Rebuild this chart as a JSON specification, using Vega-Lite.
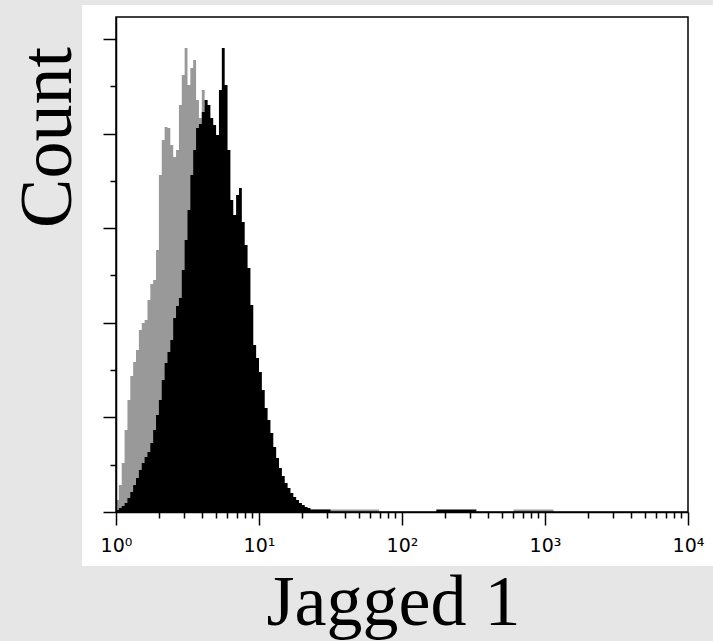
{
  "$schema": "https://vega.github.io/schema/vega-lite/v6.json",
  "width": 572,
  "height": 495,
  "autosize": "none",
  "padding": {"left": 116, "top": 17, "right": 25, "bottom": 129},
  "background": "#e6e6e6",
  "config": {"view": {"stroke": null}},
  "datasets": {
    "control": [
      {"intensity": 1, "count": 6.3},
      {"intensity": 1.0471, "count": 14.3},
      {"intensity": 1.0965, "count": 25.9},
      {"intensity": 1.1482, "count": 43.3},
      {"intensity": 1.2023, "count": 59.2},
      {"intensity": 1.2589, "count": 71.9},
      {"intensity": 1.3183, "count": 79.3},
      {"intensity": 1.3804, "count": 85.6},
      {"intensity": 1.4454, "count": 96.2},
      {"intensity": 1.5136, "count": 99.9},
      {"intensity": 1.5849, "count": 101.5},
      {"intensity": 1.6596, "count": 112.0},
      {"intensity": 1.7378, "count": 120.5},
      {"intensity": 1.8197, "count": 122.6},
      {"intensity": 1.9055, "count": 138.5},
      {"intensity": 1.9953, "count": 178.1},
      {"intensity": 2.0893, "count": 196.6},
      {"intensity": 2.1878, "count": 203.5},
      {"intensity": 2.2909, "count": 202.9},
      {"intensity": 2.3988, "count": 194.0},
      {"intensity": 2.5119, "count": 187.6},
      {"intensity": 2.6303, "count": 191.3},
      {"intensity": 2.7542, "count": 215.1},
      {"intensity": 2.8840, "count": 231.0},
      {"intensity": 3.0200, "count": 245.2},
      {"intensity": 3.1623, "count": 225.7},
      {"intensity": 3.3113, "count": 234.7},
      {"intensity": 3.4674, "count": 238.9},
      {"intensity": 3.6308, "count": 217.7},
      {"intensity": 3.8019, "count": 208.2},
      {"intensity": 3.9811, "count": 223.0},
      {"intensity": 4.1687, "count": 217.7},
      {"intensity": 4.3652, "count": 196.6},
      {"intensity": 4.5709, "count": 183.4},
      {"intensity": 4.7863, "count": 170.2},
      {"intensity": 5.0119, "count": 157.0},
      {"intensity": 5.2481, "count": 143.8},
      {"intensity": 5.4954, "count": 130.5},
      {"intensity": 5.7544, "count": 117.3},
      {"intensity": 6.0256, "count": 104.1},
      {"intensity": 6.3096, "count": 90.9},
      {"intensity": 6.6069, "count": 80.3},
      {"intensity": 6.9183, "count": 69.8},
      {"intensity": 7.2444, "count": 60.2},
      {"intensity": 7.5858, "count": 51.3},
      {"intensity": 7.9433, "count": 43.3},
      {"intensity": 8.3176, "count": 36.5},
      {"intensity": 8.7096, "count": 30.1},
      {"intensity": 9.1201, "count": 24.8},
      {"intensity": 9.5499, "count": 20.1},
      {"intensity": 10, "count": 16.4},
      {"intensity": 10.471, "count": 13.2},
      {"intensity": 10.965, "count": 10.6},
      {"intensity": 11.482, "count": 8.5},
      {"intensity": 12.023, "count": 6.9},
      {"intensity": 12.589, "count": 5.8},
      {"intensity": 13.183, "count": 4.8},
      {"intensity": 13.804, "count": 4.2},
      {"intensity": 14.454, "count": 3.7},
      {"intensity": 15.136, "count": 3.2},
      {"intensity": 15.849, "count": 2.6},
      {"intensity": 16.596, "count": 1.3},
      {"intensity": 69.183, "count": 0},
      {"intensity": 602.56, "count": 1.3},
      {"intensity": 1148.2, "count": 0}
    ],
    "jagged": [
      {"intensity": 1, "count": 1.1},
      {"intensity": 1.0471, "count": 2.1},
      {"intensity": 1.0965, "count": 3.2},
      {"intensity": 1.1482, "count": 4.8},
      {"intensity": 1.2023, "count": 7.4},
      {"intensity": 1.2589, "count": 10.6},
      {"intensity": 1.3183, "count": 14.3},
      {"intensity": 1.3804, "count": 18.0},
      {"intensity": 1.4454, "count": 22.2},
      {"intensity": 1.5136, "count": 25.9},
      {"intensity": 1.5849, "count": 29.1},
      {"intensity": 1.6596, "count": 31.7},
      {"intensity": 1.7378, "count": 36.5},
      {"intensity": 1.8197, "count": 43.3},
      {"intensity": 1.9055, "count": 51.3},
      {"intensity": 1.9953, "count": 59.2},
      {"intensity": 2.0893, "count": 69.8},
      {"intensity": 2.1878, "count": 78.7},
      {"intensity": 2.2909, "count": 84.6},
      {"intensity": 2.3988, "count": 90.9},
      {"intensity": 2.5119, "count": 102.5},
      {"intensity": 2.6303, "count": 108.9},
      {"intensity": 2.7542, "count": 113.1},
      {"intensity": 2.8840, "count": 127.9},
      {"intensity": 3.0200, "count": 143.8},
      {"intensity": 3.1623, "count": 159.6},
      {"intensity": 3.3113, "count": 178.1},
      {"intensity": 3.4674, "count": 191.3},
      {"intensity": 3.6308, "count": 202.9},
      {"intensity": 3.8019, "count": 205.1},
      {"intensity": 3.9811, "count": 211.4},
      {"intensity": 4.1687, "count": 217.7},
      {"intensity": 4.3652, "count": 215.1},
      {"intensity": 4.5709, "count": 208.2},
      {"intensity": 4.7863, "count": 204.5},
      {"intensity": 5.0119, "count": 199.2},
      {"intensity": 5.2481, "count": 223.0},
      {"intensity": 5.4954, "count": 245.2},
      {"intensity": 5.7544, "count": 225.7},
      {"intensity": 6.0256, "count": 191.3},
      {"intensity": 6.3096, "count": 164.9},
      {"intensity": 6.6069, "count": 157.0},
      {"intensity": 6.9183, "count": 167.5},
      {"intensity": 7.2444, "count": 171.2},
      {"intensity": 7.5858, "count": 153.3},
      {"intensity": 7.9433, "count": 141.1},
      {"intensity": 8.3176, "count": 129.0},
      {"intensity": 8.7096, "count": 109.4},
      {"intensity": 9.1201, "count": 88.3},
      {"intensity": 9.5499, "count": 81.4},
      {"intensity": 10, "count": 74.0},
      {"intensity": 10.471, "count": 64.5},
      {"intensity": 10.965, "count": 55.0},
      {"intensity": 11.482, "count": 48.6},
      {"intensity": 12.023, "count": 41.8},
      {"intensity": 12.589, "count": 34.4},
      {"intensity": 13.183, "count": 28.5},
      {"intensity": 13.804, "count": 23.3},
      {"intensity": 14.454, "count": 19.0},
      {"intensity": 15.136, "count": 15.3},
      {"intensity": 15.849, "count": 12.7},
      {"intensity": 16.596, "count": 10.0},
      {"intensity": 17.378, "count": 7.9},
      {"intensity": 18.197, "count": 6.3},
      {"intensity": 19.055, "count": 4.8},
      {"intensity": 19.953, "count": 3.7},
      {"intensity": 20.893, "count": 2.6},
      {"intensity": 21.878, "count": 2.1},
      {"intensity": 22.909, "count": 1.3},
      {"intensity": 31.623, "count": 0},
      {"intensity": 173.78, "count": 1.3},
      {"intensity": 331.13, "count": 0}
    ]
  },
  "layer": [
    {
      "data": {"values": [{}]},
      "mark": {"type": "rect", "fill": "white"},
      "encoding": {
        "x": {"datum": 0.5783, "type": "quantitative", "scale": {"type": "log", "domain": [1, 10000], "nice": false}},
        "x2": {"datum": 14955},
        "y": {"datum": -28.5, "type": "quantitative", "scale": {"domain": [0, 261.6], "nice": false, "zero": false}},
        "y2": {"datum": 268}
      }
    },
    {
      "data": {"name": "control"},
      "mark": {"type": "area", "interpolate": "step-after", "color": "#999999"},
      "encoding": {
        "x": {
          "field": "intensity", "type": "quantitative",
          "scale": {"type": "log", "domain": [1, 10000], "nice": false},
          "axis": {
            "title": "Jagged 1",
            "values": [1,2,3,4,5,6,7,8,9,10,20,30,40,50,60,70,80,90,100,200,300,400,500,600,700,800,900,1000,2000,3000,4000,5000,6000,7000,8000,9000,10000],
            "labelExpr": "datum.value == 1 ? '10⁰' : datum.value == 10 ? '10¹' : datum.value == 100 ? '10²' : datum.value == 1000 ? '10³' : datum.value == 10000 ? '10⁴' : ''",
            "tickSize": {"condition": {"test": "indexof([1,10,100,1000,10000], datum.value) >= 0", "value": 13}, "value": 6},
            "tickColor": "black", "tickWidth": 1.5,
            "domain": true, "domainColor": "black", "domainWidth": 1.5,
            "grid": false,
            "labelFont": "DejaVu Sans", "labelFontSize": 19, "labelColor": "black",
            "labelPadding": 11, "labelOverlap": false, "labelFlush": false, "labelBound": false,
            "titleFont": "Liberation Serif", "titleFontSize": 72, "titleFontWeight": "normal", "titleColor": "black",
            "titleX": 277, "titleY": 112, "titleAlign": "center", "titleBaseline": "alphabetic",
            "zindex": 1
          }
        },
        "y": {
          "field": "count", "type": "quantitative",
          "scale": {"domain": [0, 261.6], "nice": false, "zero": false},
          "axis": {
            "title": "Count",
            "values": [0,12.5,25,37.5,50,62.5,75,87.5,100,112.5,125,137.5,150,162.5,175,187.5,200,212.5,225,237.5,250],
            "labels": false,
            "tickSize": {"condition": {"test": "datum.value % 50 == 0", "value": 13}, "value": 6},
            "tickColor": "black", "tickWidth": 1.5,
            "domain": true, "domainColor": "black", "domainWidth": 1.5,
            "grid": false,
            "titleFont": "Liberation Serif", "titleFontSize": 74, "titleFontWeight": "normal", "titleColor": "black",
            "titleX": -46, "titleY": 120, "titleAngle": -90, "titleAlign": "center", "titleBaseline": "alphabetic",
            "zindex": 1
          }
        },
        "y2": {"datum": 0}
      }
    },
    {
      "data": {"name": "jagged"},
      "mark": {"type": "area", "interpolate": "step-after", "color": "#000000"},
      "encoding": {
        "x": {"field": "intensity", "type": "quantitative", "scale": {"type": "log", "domain": [1, 10000], "nice": false}},
        "y": {"field": "count", "type": "quantitative", "scale": {"domain": [0, 261.6], "nice": false, "zero": false}},
        "y2": {"datum": 0}
      }
    },
    {
      "data": {"values": [{}]},
      "mark": {"type": "rect", "fillOpacity": 0, "stroke": "#000000", "strokeWidth": 1.5},
      "encoding": {
        "x": {"datum": 1, "type": "quantitative", "scale": {"type": "log", "domain": [1, 10000], "nice": false}},
        "x2": {"datum": 10000},
        "y": {"datum": 0, "type": "quantitative", "scale": {"domain": [0, 261.6], "nice": false, "zero": false}},
        "y2": {"datum": 261.6}
      }
    }
  ]
}
